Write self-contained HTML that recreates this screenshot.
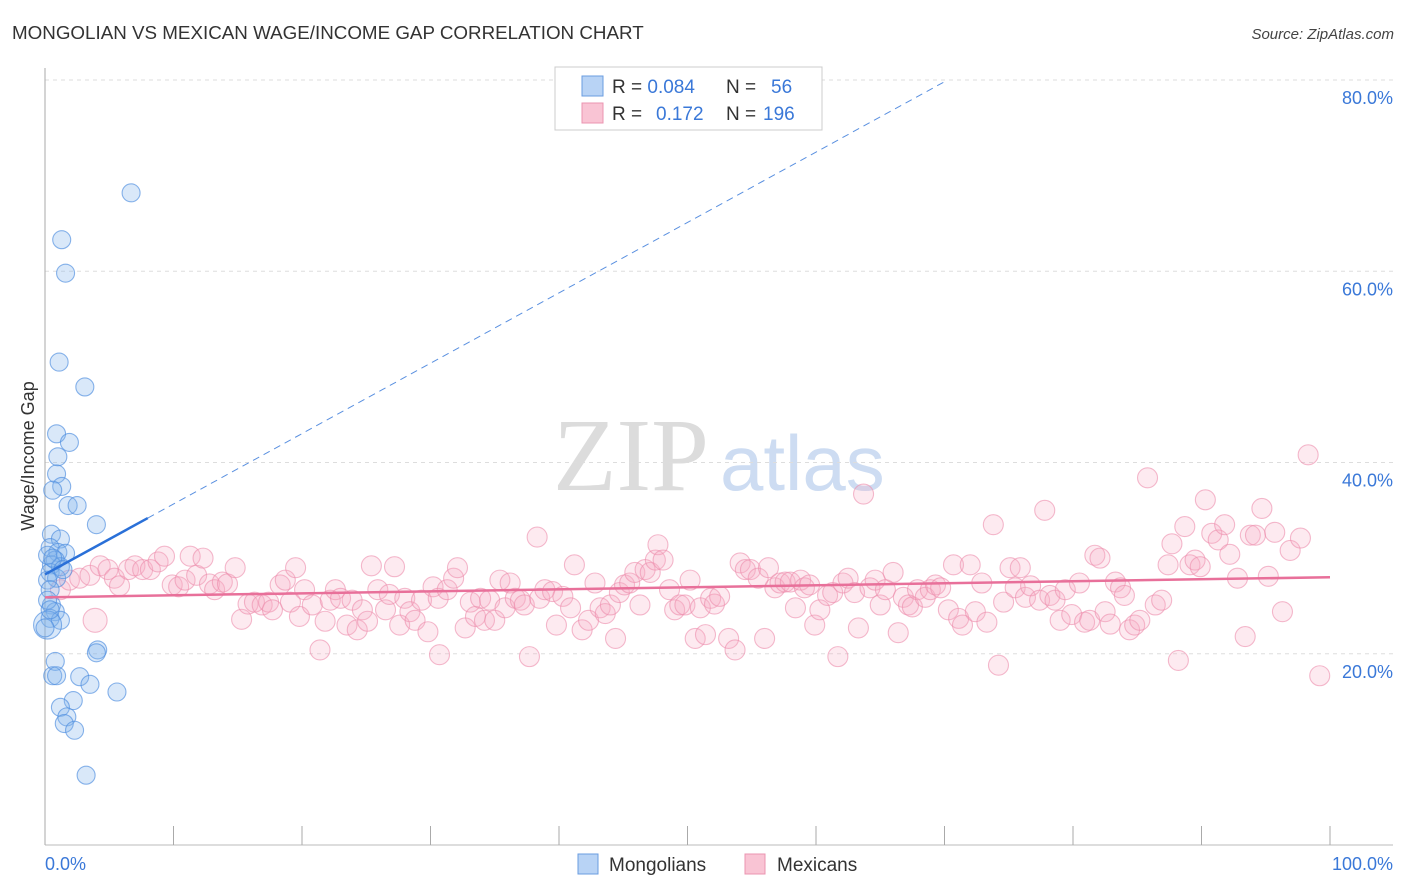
<!DOCTYPE html>
<html><head><meta charset="utf-8"><style>
body{margin:0;background:#fff;}
svg{display:block;font-family:"Liberation Sans",sans-serif;}
</style></head><body>
<svg id="chart" width="1406" height="892" viewBox="0 0 1406 892">
<text x="12" y="39" font-size="18.8" fill="#333">MONGOLIAN VS MEXICAN WAGE/INCOME GAP CORRELATION CHART</text>
<text x="1394" y="39" font-size="15" fill="#444" font-style="italic" text-anchor="end">Source: ZipAtlas.com</text>
<g>
<text x="553" y="490" font-size="104" font-family="Liberation Serif, serif" fill="#dcdcdc">ZIP</text>
<text x="720" y="490" font-size="78" fill="#cddcf2">atlas</text>
</g>
<g id="grid"></g>
<g id="axes"></g>
<g id="pink"></g>
<g id="blue"></g>
<g id="trends"></g>
<text transform="translate(34,456) rotate(-90)" font-size="18" fill="#333" text-anchor="middle">Wage/Income Gap</text>
<g>
<rect x="555" y="67" width="267" height="63" fill="#fff" stroke="#ccc"/>
<rect x="582" y="76" width="21" height="20" fill="#b8d3f5" stroke="#6a9de0"/>
<rect x="582" y="103" width="21" height="20" fill="#f9c4d4" stroke="#eb94b0"/>
<text x="612" y="93" font-size="19" fill="#333">R = <tspan fill="#3a78d8">0.084</tspan><tspan x="726">N = </tspan><tspan x="771" fill="#3a78d8">56</tspan></text>
<text x="612" y="120" font-size="19" fill="#333">R = <tspan x="656" fill="#3a78d8">0.172</tspan><tspan x="726">N = </tspan><tspan x="763" fill="#3a78d8">196</tspan></text>
</g>
<g>
<rect x="578" y="854" width="20" height="20" fill="#b8d3f5" stroke="#6a9de0"/>
<text x="609" y="871" font-size="19" fill="#333">Mongolians</text>
<rect x="745" y="854" width="20" height="20" fill="#f9c4d4" stroke="#eb94b0"/>
<text x="777" y="871" font-size="19" fill="#333">Mexicans</text>
</g>
</svg>
<script>
const yTicks=[20,40,60,80];
const yTickLabels=["20.0%","40.0%","60.0%","80.0%"];
const xTickVals=[0,10,20,30,40,50,60,70,80,90,100];
const xEndLabels=["0.0%","100.0%"];
const blueX=[6.7,1.3,1.6,1.1,3.1,0.9,1.9,1.0,0.9,1.3,0.6,1.8,2.5,4.0,0.5,1.2,0.4,1.0,1.6,0.8,0.5,1.2,0.4,0.9,0.2,0.4,0.5,0.8,0.4,1.2,0.2,4.1,4.0,0.8,0.6,0.9,2.7,3.5,5.6,2.2,1.2,1.7,1.5,2.3,3.2,0.2,0.4,0.0,0.2,0.6,1.4];
const blueY=[68.2,63.3,59.8,50.5,47.9,43.0,42.1,40.6,38.8,37.5,37.1,35.5,35.5,33.5,32.5,32.0,31.1,30.6,30.5,29.8,29.3,29.1,28.5,27.9,27.7,26.7,25.1,24.4,23.7,23.5,23.0,20.4,20.1,19.2,17.7,17.7,17.6,16.8,16.0,15.1,14.4,13.4,12.7,12.0,7.3,25.6,24.6,22.7,30.3,30.0,28.8];
const pinkX=[3.9,1.2,1.9,2.7,3.5,4.3,4.9,5.4,5.8,6.5,7.0,7.6,8.2,8.8,9.3,9.9,10.4,10.9,11.3,11.8,12.3,12.8,13.2,13.8,14.2,14.8,15.3,15.8,16.3,16.9,17.4,17.7,18.3,18.7,19.1,19.5,19.8,20.2,20.8,21.4,21.8,22.2,22.6,23.0,23.5,23.9,24.3,24.7,25.1,25.4,25.9,26.5,26.8,27.2,27.6,28.0,28.4,28.8,29.3,29.8,30.2,30.6,30.7,31.3,31.8,32.1,32.7,33.1,33.5,33.9,34.2,34.6,35.0,35.4,35.8,36.2,36.6,37.0,37.3,37.7,38.3,38.5,38.9,39.5,39.8,40.3,40.9,41.2,41.8,42.3,42.8,43.2,43.6,44.0,44.4,44.7,45.1,45.5,45.9,46.3,46.7,47.1,47.5,47.7,48.1,48.6,49.0,49.4,49.8,50.2,50.6,51.0,51.4,51.8,52.1,52.5,53.2,53.7,54.1,54.5,54.9,55.5,56.0,56.3,56.8,57.2,57.6,58.0,58.4,58.8,59.1,59.5,59.9,60.3,60.9,61.3,61.7,62.1,62.5,63.0,63.3,63.7,64.2,64.6,65.0,65.4,66.0,66.4,66.8,67.2,67.5,67.9,68.5,68.9,69.3,69.7,70.3,70.7,71.1,71.4,72.0,72.4,72.9,73.3,73.8,74.2,74.6,75.1,75.5,75.9,76.3,76.7,77.4,77.8,78.2,78.6,79.0,79.4,79.9,80.5,80.9,81.3,81.7,82.1,82.5,82.9,83.3,83.7,84.0,84.4,84.8,85.2,85.8,86.4,86.9,87.4,87.7,88.2,88.7,89.1,89.5,89.9,90.3,90.8,91.3,91.8,92.2,92.8,93.4,93.8,94.2,94.7,95.2,95.7,96.3,96.9,97.7,98.3,99.2];
const pinkY=[23.5,26.7,27.7,27.9,28.2,29.2,28.8,27.9,27.1,28.8,29.2,28.8,28.8,29.6,30.2,27.2,27.0,27.7,30.2,28.2,30.0,27.3,26.7,27.5,27.3,29.0,23.6,25.2,25.4,25.1,25.4,24.6,27.2,27.7,25.4,29.0,23.9,26.7,25.1,20.4,23.4,25.6,26.7,25.8,23.0,25.6,22.5,24.6,23.4,29.2,26.7,24.6,26.2,29.1,23.0,25.8,24.4,23.5,25.6,22.3,27.0,25.8,19.9,26.7,27.9,29.0,22.7,25.4,23.9,25.8,23.5,25.6,23.5,27.7,24.8,27.4,25.8,25.6,25.1,19.7,32.2,25.8,26.7,26.5,23.0,26.0,24.8,29.3,22.5,23.5,27.4,24.8,24.2,25.1,21.6,26.4,27.2,27.4,28.5,25.1,28.8,28.5,29.8,31.4,29.8,26.7,24.6,25.1,25.1,27.7,21.6,24.8,22.0,25.8,25.2,26.0,21.6,20.4,29.5,28.8,28.8,27.9,21.6,29.0,26.9,27.4,27.5,27.5,24.8,27.7,26.9,27.2,23.0,24.6,26.1,26.4,19.7,27.4,27.9,26.4,22.7,36.7,26.9,27.7,25.1,26.7,28.5,22.2,25.9,25.1,24.9,26.7,25.9,26.7,27.2,26.9,24.6,29.3,23.7,23.0,29.3,24.4,27.4,23.3,33.5,18.8,25.4,29.0,26.9,29.0,25.9,27.1,25.6,35.0,26.1,25.6,23.5,26.7,24.1,27.4,23.3,23.5,30.3,30.0,24.4,23.1,27.5,26.9,26.1,22.5,23.0,23.5,38.4,25.1,25.6,29.3,31.5,19.3,33.3,29.3,29.8,29.1,36.1,32.6,31.9,33.5,30.4,27.9,21.8,32.4,32.4,35.2,28.1,32.7,24.4,30.8,32.1,40.8,17.7];
const blueTrend=[28.3,0.736,8];
const pinkTrend=[25.9,28.0];

const NS="http://www.w3.org/2000/svg";
const X0=45,X1=1330,Y0=845,PPY=9.5625;
const sx=v=>X0+(X1-X0)*v/100;
const sy=v=>Y0-v*PPY;
function mk(tag,attrs,parent){const e=document.createElementNS(NS,tag);for(const k in attrs)e.setAttribute(k,attrs[k]);parent.appendChild(e);return e;}
const grid=document.getElementById('grid'),axes=document.getElementById('axes');
yTicks.forEach((t,i)=>{
 const l=mk('line',{x1:X0,x2:1393,y1:sy(t),y2:sy(t),stroke:'#ddd','stroke-dasharray':'4,4'},grid);
 
 
 const tx=mk('text',{x:1393,y:sy(t)+24,'font-size':18,fill:'#3a78d8','text-anchor':'end'},axes);
 tx.textContent=yTickLabels[i];
 
 
});
const ya=mk('line',{x1:X0,x2:X0,y1:68,y2:Y0,stroke:'#aaa'},axes);


const xa=mk('line',{x1:X0,x2:1393,y1:Y0,y2:Y0,stroke:'#bbb'},axes);


xTickVals.forEach(v=>{
 const t=mk('line',{x1:sx(v),x2:sx(v),y1:826,y2:Y0,stroke:'#aaa'},axes);
 
 
});
const xl0=mk('text',{x:X0,y:870,'font-size':18,fill:'#3a78d8'},axes);xl0.textContent=xEndLabels[0];


const xl1=mk('text',{x:1393,y:870,'font-size':18,fill:'#3a78d8','text-anchor':'end'},axes);xl1.textContent=xEndLabels[1];


const pg=document.getElementById('pink');
pinkX.forEach((x,i)=>{
 const c=mk('circle',{cx:sx(x),cy:sy(pinkY[i]),r:i===0?12:10,fill:'rgba(246,170,195,0.25)',stroke:'rgba(236,140,172,0.6)','stroke-width':1.1},pg);
 
 
});
const bg=document.getElementById('blue');
blueX.forEach((x,i)=>{
 const c=mk('circle',{cx:sx(x),cy:sy(blueY[i]),r:blueY[i]===23.0?14:9,fill:'rgba(130,178,236,0.3)',stroke:'rgba(75,140,222,0.65)','stroke-width':1.1},bg);
 
 
});
const tg=document.getElementById('trends');
const bt=v=>blueTrend[0]+blueTrend[1]*v;
const xEnd=(80-blueTrend[0])/blueTrend[1];
const b1=mk('line',{x1:sx(0),y1:sy(bt(0)),x2:sx(blueTrend[2]),y2:sy(bt(blueTrend[2])),stroke:'#2a70d8','stroke-width':2.5},tg);


const b2=mk('line',{x1:sx(blueTrend[2]),y1:sy(bt(blueTrend[2])),x2:sx(xEnd),y2:sy(80),stroke:'#5a90e0','stroke-width':1,'stroke-dasharray':'7,5'},tg);


const p1=mk('line',{x1:sx(0),y1:sy(pinkTrend[0]),x2:sx(100),y2:sy(pinkTrend[1]),stroke:'#e8709a','stroke-width':2.5},tg);


</script>
</body></html>
